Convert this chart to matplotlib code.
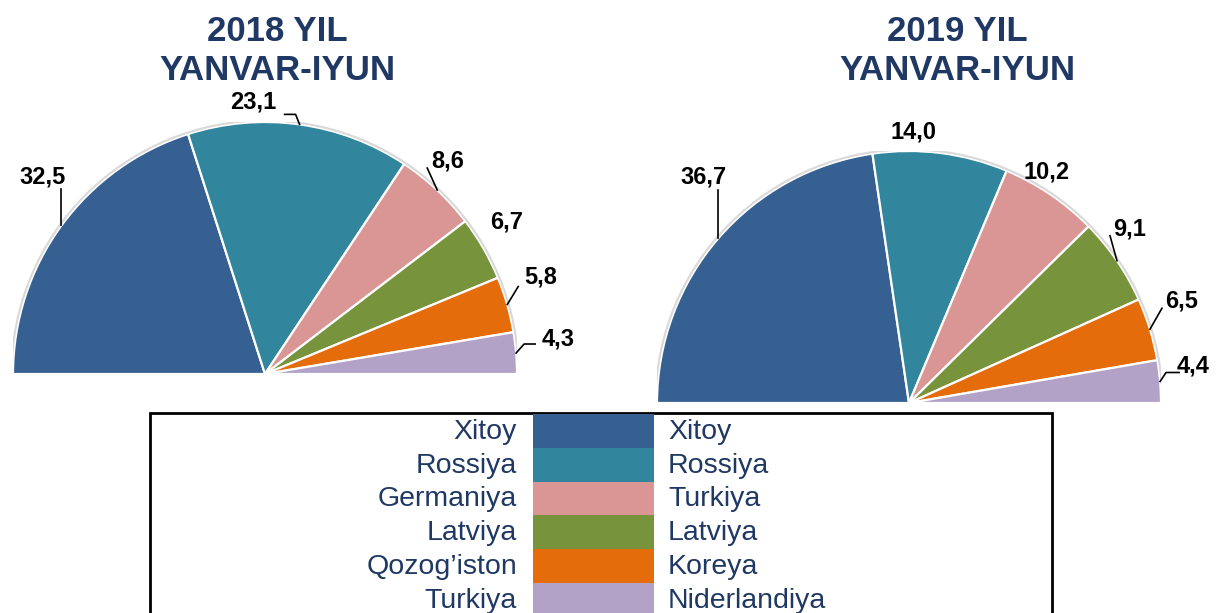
import numpy as np
import matplotlib
matplotlib.use('Agg')
import matplotlib.pyplot as plt
from matplotlib.patches import Arc, Rectangle

plt.rcParams['font.family'] = ['Liberation Sans', 'DejaVu Sans']

# data
countries_2018 = ['Xitoy', 'Rossiya', 'Germaniya', 'Latviya', 'Qozog\u2019iston', 'Turkiya']
values_2018 = [32.5, 23.1, 8.6, 6.7, 5.8, 4.3]
countries_2019 = ['Xitoy', 'Rossiya', 'Turkiya', 'Latviya', 'Koreya', 'Niderlandiya']
values_2019 = [36.7, 14.0, 10.2, 9.1, 6.5, 4.4]
titles = ['2018 YIL\nYANVAR-IYUN', '2019 YIL\nYANVAR-IYUN']

colors = ['#376092', '#31859C', '#D99694', '#77933C', '#E46C0A', '#B3A2C7']
navy = '#1F3864'

# label placement: text offset from slice mid-point on the arc (pixels, y down)
# and leader line points (same units), ending at the arc point
off_2018 = [(-19, -48), (-46, -22), (10, -29), (23, -26), (33, -28), (42, -14)]
lead_2018 = [[(0, -36)], [(-15, -10), (-4, -10)], [(-10, -22)], [], [(11, -18)],
             [(19, -9), (8, -9)]]
off_2019 = [(-15, -61), (-27, -21), (-4, -22), (13, -32), (32, -28), (33, -15)]
lead_2019 = [[(0, -48)], [], [], [(-7, -25)], [(12, -21)], [(19, -9), (6, -9)]]

W, H = 1221, 613
R = 252
fig = plt.figure(figsize=(W / 100, H / 100), dpi=100)

# legend box (pixel coordinates overlay)
lax = fig.add_axes([0, 0, 1, 1])
lax.set_xlim(0, W)
lax.set_ylim(H, 0)
lax.axis('off')
lax.add_patch(Rectangle((150, 413), 902, 230, facecolor='white', edgecolor='black', lw=2))
row_h = 33.8
for i in range(len(colors)):
    y0 = 414 + i * row_h
    lax.add_patch(Rectangle((533, y0), 121, row_h, facecolor=colors[i], edgecolor='none'))
    lax.text(517, y0 + row_h / 2 + 1, countries_2018[i], ha='right', va='center',
             fontsize=20.5, color=navy)
    lax.text(668, y0 + row_h / 2 + 1, countries_2019[i], ha='left', va='center',
             fontsize=20.5, color=navy)


def half_pie(cx, cy, values, offsets, leaders, title, tx):
    ax = fig.add_axes([(cx - R) / W, (H - cy - R) / H, 2 * R / W, 2 * R / H])
    wedges, _ = ax.pie(values + [sum(values)], colors=colors + ['none'],
                       startangle=180, counterclock=False, radius=1,
                       wedgeprops=dict(edgecolor='white', linewidth=1.6))
    wedges[-1].set_visible(False)
    ax.set_xlim(-1, 1)
    ax.set_ylim(-1, 1)
    ax.set_aspect('equal')
    ax.axis('off')
    ax.add_patch(Arc((0, 0), 2.012, 2.012, theta1=0, theta2=180, color='#d9d9d9', lw=1.5))
    for w, v, (ox, oy), pts in zip(wedges[:-1], values, offsets, leaders):
        mid = np.deg2rad((w.theta1 + w.theta2) / 2)
        px, py = np.cos(mid), np.sin(mid)
        ax.text(px + ox / R, py - oy / R, f'{v:.1f}'.replace('.', ','),
                ha='center', va='center', fontsize=17, fontweight='bold', color='black')
        if pts:
            xs = [px + p[0] / R for p in pts] + [px]
            ys = [py - p[1] / R for p in pts] + [py]
            ax.plot(xs, ys, color='black', lw=1.2, clip_on=False)
    fig.text(tx / W, 1 - 51 / H, title, ha='center', va='center', fontsize=25,
             fontweight='bold', color=navy, linespacing=1.25)


half_pie(265, 374, values_2018, off_2018, lead_2018, titles[0], 277)
half_pie(909, 403, values_2019, off_2019, lead_2019, titles[1], 957)

fig.savefig('out.png', dpi=100)
